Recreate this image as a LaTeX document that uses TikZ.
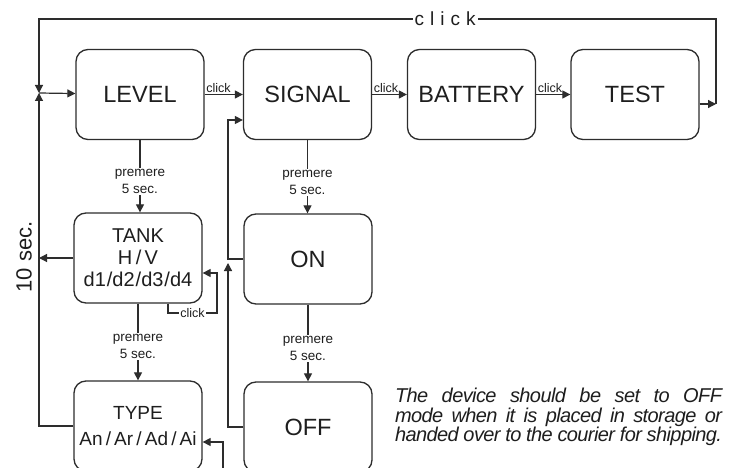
\documentclass[tikz,border=0pt]{standalone}
\usepackage{fontspec}
\setmainfont{Liberation Sans}
\usetikzlibrary{arrows.meta}
\definecolor{ln}{RGB}{45,45,45}
\definecolor{tx}{RGB}{30,30,30}
\begin{document}
\begin{tikzpicture}[x=1pt,y=-1pt,
  box/.style={draw=ln, line width=1.3pt, rounded corners=12pt, minimum width=128pt, minimum height=90pt, inner sep=0pt, text=tx, font=\fontsize{23.5}{25}\selectfont, align=center},
  arr/.style={draw=ln, line width=1.2pt, -{Triangle[length=8pt,width=8pt]}},
  small/.style={font=\fontsize{12.5}{14}\selectfont, text=tx, inner sep=1pt},
  prem/.style={font=\fontsize{13.5}{17}\selectfont, text=tx, fill=white, align=center, inner sep=1pt},
  note/.style={inner sep=0pt, font=\fontsize{20}{19.5}\selectfont\itshape\addfontfeature{LetterSpace=-3}, text=tx}
]
\useasboundingbox (0,0) rectangle (737,468);
\clip (0,0) rectangle (737,468);
\fill[white] (0,0) rectangle (737,468);

% boxes
\node[box] (LEVEL) at (140,94.5) {LEVEL};
\node[box] (SIGNAL) at (307.5,94.5) {SIGNAL};
\node[box] (BAT) at (471.5,94.5) {BATTERY};
\node[box] (TEST) at (635,94.5) {TEST};
\node[box, font=\fontsize{20}{22}\selectfont] (TANK) at (138,258) {TANK\\H\,/\,V\\d1\kern1pt/d2\kern1pt/d3\kern1pt/d4};
\node[box] (ON) at (308,259) {ON};
\node[box, font=\fontsize{19}{26}\selectfont] (TYPE) at (138,426) {TYPE\\An\,/\,Ar\,/\,Ad\,/\,Ai};
\node[box] (OFF) at (308,427) {OFF};

% coordinates
\coordinate (J) at (39,93);
\coordinate (tl) at (39,19);
\coordinate (tr) at (716,104);
\coordinate (c1) at (228,120);
\coordinate (c2) at (228,263);
\coordinate (c3) at (217,313);
\coordinate (c4) at (223,490);

% top row
\draw[arr] (LEVEL) -- node[small, pos=0, anchor=south west]{click} (SIGNAL);
\draw[arr] (SIGNAL) -- node[small, pos=0, anchor=south west]{click} (BAT);
\draw[arr] (BAT) -- node[small, pos=0, anchor=south west]{click} (TEST);

% big loop
\draw[arr] ([yshift=-9.5pt]TEST.east) -- (tr);
\draw[arr] (tr) |- node[pos=0.7, fill=white, inner sep=2pt, text=tx, font=\fontsize{19}{21}\selectfont]{c\kern6pt l\kern6pt i\kern6pt c\kern6pt k} (tl) -- (J);
\draw[arr] (TYPE) -- (TYPE -| J) -- (J);
\draw[arr] (J) -- (LEVEL);
\draw[arr] (TANK) -- (TANK -| J);
\node[rotate=90, font=\fontsize{22}{24}\selectfont, text=tx] (ten) at (24,257) {10 sec.};

% premere edges
\draw[arr] (LEVEL) -- node[prem, pos=0.57]{premere\\5 sec.} (LEVEL |- TANK.north);
\draw[arr] (SIGNAL) -- node[prem, pos=0.58]{premere\\5 sec.} (SIGNAL |- ON.north);
\draw[arr] (TANK) -- node[prem, pos=0.56]{premere\\5 sec.} (TANK |- TYPE.north);
\draw[arr] (ON) -- node[prem, pos=0.57]{premere\\5 sec.} (ON |- OFF.north);

% returns
\draw[arr] (ON) -| (c1) -- (c1 -| SIGNAL.west);
\draw[arr] (OFF) -| (c2);
\draw[arr] ([xshift=30pt]TANK.south) |- node[pos=0.75, small, fill=white]{click} (c3) |- ([yshift=-15pt]TANK.east);
\draw[arr] (c4) |- ([yshift=-16pt]TYPE.east);

% note
\node[note] (txt) at (558.5,417) {\vbox{\hsize=327pt
  \hbox to\hsize{The device should be set to OFF}
  \hbox to\hsize{mode when it is placed in storage or}
  \hbox to\hsize{handed over to the courier for shipping.}}};
\end{tikzpicture}
\end{document}
